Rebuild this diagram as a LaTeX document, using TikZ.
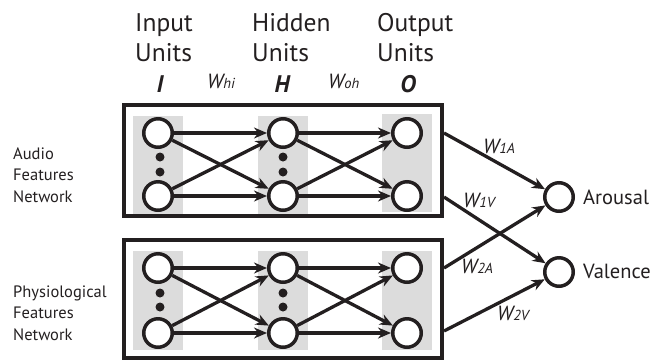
\documentclass[tikz,border=0pt]{standalone}
\usepackage{fontspec}
\setmainfont{PT Sans}
\usetikzlibrary{arrows.meta}
\definecolor{ink}{HTML}{231F20}
\definecolor{shade}{HTML}{DCDCDC}
\begin{document}
\begin{tikzpicture}[x=1pt,y=-1pt,
  unit/.style={circle, draw=ink, line width=3.5pt, minimum size=28.5pt, inner sep=0pt, fill=white},
  dotnode/.style={circle, fill=ink, minimum size=9pt, inner sep=0pt},
  link/.style={draw=ink, line width=3.3pt, -{Stealth[length=13pt,width=11pt]}},
  frame/.style={draw=ink, line width=4pt},
  column/.style={fill=shade},
  head/.style={anchor=base west, inner sep=0pt, align=left, text=ink, font=\fontsize{25.5}{30}\selectfont},
  side/.style={anchor=base west, inner sep=0pt, align=left, text=ink, font=\fontsize{16.5}{21.5}\selectfont},
  sym/.style={anchor=base, inner sep=0pt, text=ink, font=\fontsize{24}{24}\selectfont\bfseries\itshape},
  wlab/.style={anchor=base west, inner sep=0pt, text=ink, font=\fontsize{20.5}{20.5}\selectfont\itshape},
  outlab/.style={anchor=base west, inner sep=0pt, text=ink, font=\fontsize{20.5}{20.5}\selectfont}
]
\useasboundingbox (0,0) rectangle (669,360);
\newcommand{\wsub}[1]{{\fontsize{14.5}{14.5}\selectfont #1}}

% headers
\node[head] (hin) at (135,61) {Input\\Units};
\node[head] (hhid) at (252,61) {Hidden\\Units};
\node[head] (hout) at (377,61) {Output\\Units};
\node[sym] (sI) at (160,92) {I};
\node[sym] (sH) at (282,92) {H};
\node[sym] (sO) at (408,92) {O};
\node[wlab] (whi) at (207,88) {W\wsub{hi}};
\node[wlab] (woh) at (328,88) {W\wsub{oh}};

% side labels
\node[side] (la) at (13,202) {Audio\\Features\\Network};
\node[side] (lp) at (13,340) {Physiological\\Features\\Network};

% ---------- top network ----------
\fill[column] (133,116) rectangle (183,214);
\fill[column] (258,116) rectangle (308,214);
\fill[column] (382,114) rectangle (432,212);
\draw[frame] (124,105) rectangle (442,216);
\node[unit] (ai1) at (158,133) {};
\node[unit] (ai2) at (158,196) {};
\node[unit] (ah1) at (283,133) {};
\node[unit] (ah2) at (283,196) {};
\node[unit] (ao1) at (407,133) {};
\node[unit] (ao2) at (407,196) {};
\node[dotnode] (ad1) at (160,157) {};
\node[dotnode] (ad2) at (160,172) {};
\node[dotnode] (ad3) at (283,157) {};
\node[dotnode] (ad4) at (283,172) {};
\draw[link] (ai1) -- (ah1);
\draw[link] (ai1) -- (ah2);
\draw[link] (ai2) -- (ah1);
\draw[link] (ai2) -- (ah2);
\draw[link] (ah1) -- (ao1);
\draw[link] (ah1) -- (ao2);
\draw[link] (ah2) -- (ao1);
\draw[link] (ah2) -- (ao2);

% ---------- bottom network ----------
\fill[column] (133,251) rectangle (183,350);
\fill[column] (258,251) rectangle (308,350);
\fill[column] (382,251) rectangle (432,350);
\draw[frame] (124,240) rectangle (442,358);
\node[unit] (pi1) at (158,268) {};
\node[unit] (pi2) at (158,333) {};
\node[unit] (ph1) at (283,268) {};
\node[unit] (ph2) at (283,333) {};
\node[unit] (po1) at (407,268) {};
\node[unit] (po2) at (407,333) {};
\node[dotnode] (pd1) at (160,293) {};
\node[dotnode] (pd2) at (160,307) {};
\node[dotnode] (pd3) at (283,293) {};
\node[dotnode] (pd4) at (283,307) {};
\draw[link] (pi1) -- (ph1);
\draw[link] (pi1) -- (ph2);
\draw[link] (pi2) -- (ph1);
\draw[link] (pi2) -- (ph2);
\draw[link] (ph1) -- (po1);
\draw[link] (ph1) -- (po2);
\draw[link] (ph2) -- (po1);
\draw[link] (ph2) -- (po2);

% ---------- outputs ----------
\node[unit] (ar) at (559,197) {};
\node[unit] (va) at (559,272) {};
\node[outlab] (tar) at (583,204) {Arousal};
\node[outlab] (tva) at (583,278) {Valence};
\coordinate (e1) at (444,133);
\coordinate (e2) at (444,197);
\coordinate (e3) at (444,268);
\coordinate (e4) at (444,331);
\draw[link] (e1) -- (ar);
\draw[link] (e2) -- (va);
\draw[link] (e3) -- (ar);
\draw[link] (e4) -- (va);
\node[wlab] (w1a) at (483,153) {W\wsub{1A}};
\node[wlab] (w1v) at (463,207) {W\wsub{1V}};
\node[wlab] (w2a) at (461,273) {W\wsub{2A}};
\node[wlab] (w2v) at (497,320) {W\wsub{2V}};
\end{tikzpicture}
\end{document}
